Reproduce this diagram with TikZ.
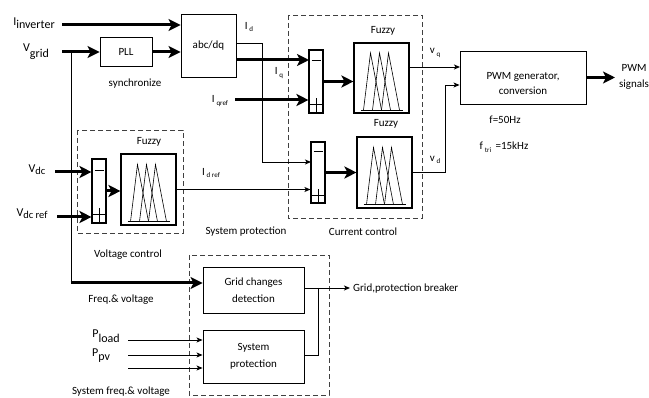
\documentclass[tikz,border=0pt]{standalone}
\usepackage{fontspec}
\setmainfont{Carlito}
\usetikzlibrary{arrows.meta,calc}
\newcommand\lsub[2][3pt]{\raisebox{-#1}{#2}}
\newcommand\ssub[1]{\,\raisebox{-2.5pt}{\fontsize{7}{8}\selectfont #1}}
\newcommand\fuzzicon[1]{\begin{scope}[shift={(#1.center)}, line width=0.6pt]
  \draw (-21,32)--(21,32);
  \draw (-18,32)--(-11,-25)--(0,32);
  \draw (-9,32)--(-2,-25)--(9,32);
  \draw (0,32)--(7,-25)--(18,32);
\end{scope}}
\newcommand\sumicon[1]{\begin{scope}[shift={(#1.center)}, line width=0.8pt]
  \draw (-4.5,-21)--(4.5,-21);
  \draw (-7,23)--(7,23);
  \draw (0,17)--(0,31.5);
\end{scope}}
\begin{document}
\begin{tikzpicture}[x=1pt,y=-1pt,
  every node/.style={font=\fontsize{11}{13}\selectfont, inner sep=0pt},
  blk/.style={draw, line width=0.9pt, align=center},
  wire/.style={line width=0.9pt},
  wirearr/.style={line width=0.9pt, -{Stealth[length=6pt,width=5pt,inset=1.5pt]}},
  bigarr/.style={line width=3pt, -{Stealth[length=12pt,width=12pt,inset=3pt]}},
  dbox/.style={draw=black!75, line width=0.8pt, dash pattern=on 5pt off 3pt},
  sumbar/.style={draw, line width=1.1pt, minimum width=14pt, minimum height=63pt},
  fuzbox/.style={draw, line width=1.1pt, minimum width=55pt, minimum height=70pt},
  big/.style={font=\fontsize{12}{14}\selectfont},
]
\useasboundingbox (0,0) rectangle (649,398);

% dashed groups
\draw[dbox] (77,130) rectangle (183,233);
\draw[dbox] (288,15) rectangle (422,218);
\draw[dbox] (189,255) rectangle (329,395);

% blocks
\node[blk, minimum width=52pt, minimum height=29pt] (pll) at (126,52) {PLL};
\node[blk, minimum width=55pt, minimum height=63pt] (abc) at (208.5,45.5) {abc/dq};
\node[blk, minimum width=126pt, minimum height=53pt] (pwm) at (523,77.5) {};
\node[align=center, font=\fontsize{11}{15}\selectfont] (pwmt) at (523,84) {PWM generator,\\conversion};
\node[blk, minimum width=101pt, minimum height=46pt, font=\fontsize{11}{17}\selectfont] (gcd) at (253.5,290) {Grid changes\\detection};
\node[blk, minimum width=101pt, minimum height=53pt, font=\fontsize{11}{17}\selectfont] (sp) at (253.5,356.5) {System\\protection};

% summing bars and fuzzy blocks
\node[sumbar] (jq) at (316,81.5) {};
\node[sumbar, minimum height=61pt] (jd) at (318,172.5) {};
\node[sumbar, minimum height=64pt] (jv) at (99,191) {};
\sumicon{jq}\sumicon{jd}\sumicon{jv}
\node[fuzbox] (fq) at (381.5,78) {};
\node[fuzbox, minimum height=71pt] (fd) at (384.5,172.5) {};
\node[fuzbox, minimum height=71pt] (fz) at (148.5,189.5) {};
\fuzzicon{fq}\fuzzicon{fd}\fuzzicon{fz}

% labels
\node[big] (lIinv) at (34,23) {I\lsub[3pt]{inverter}};
\node[big] (lVg) at (36,52) {V\lsub[6pt]{grid}};
\node (lsync) at (135,84) {synchronize};
\node (lId) at (249,27) {I\ssub{d}};
\node (lIq) at (279,73) {I\ssub{q}};
\node (lIqr) at (220,101) {I\ssub{qref}};
\node (lIdr) at (211,173) {I\ssub{d ref}};
\node (lvq) at (435,53) {v\ssub{q}};
\node (lvd) at (435,160) {v\ssub{d}};
\node (lf) at (505,120) {f=50Hz};
\node (lftri) at (504,147) {f\ssub{tri}\ \,=15kHz};
\node[align=center, font=\fontsize{11}{16}\selectfont] (lpwms) at (634,77) {PWM\\signals};
\node (lfz1) at (383,31) {Fuzzy};
\node (lfz2) at (386,124) {Fuzzy};
\node (lfz3) at (149,142) {Fuzzy};
\node[big] (lVdc) at (37,170) {V\lsub[2pt]{\fontsize{10.5}{12}\selectfont dc}};
\node[big] (lVdcr) at (32,214) {V\lsub[2pt]{\fontsize{10.5}{12}\selectfont dc ref}};
\node (lvc) at (128,255) {Voltage control};
\node (lspr) at (246,232) {System protection};
\node (lcc) at (363,232) {Current control};
\node[anchor=west] (lgpb) at (353,288.5) {Grid,protection breaker};
\node (lfv) at (121,300) {Freq.\& voltage};
\node (lsfv) at (121,392) {System freq.\& voltage};
\node[big] (lPl) at (106,336) {P\lsub[5pt]{load}};
\node[big] (lPpv) at (101,356) {P\lsub[4pt]{pv}};

% connector end points
\coordinate (iinv) at (62,25);
\coordinate (vg) at (62,52);
\coordinate (vgb) at (71,52);
\coordinate (fvc) at (71,283);
\coordinate (idc) at (262,43);
\coordinate (jdm) at (311,162);
\coordinate (jqm) at (309,60);
\coordinate (iqr) at (235,100);
\coordinate (pwmq) at (460,67);
\coordinate (vdc) at (445,85);
\coordinate (pwmo) at (615,77.5);
\coordinate (vdcs) at (55,172);
\coordinate (vdcrs) at (57,217);
\coordinate (gj) at (318,288);
\coordinate (gout) at (350,288);
\coordinate (spo) at (304,355);
\coordinate (p1) at (128,340);
\coordinate (p2) at (128,355);
\coordinate (p3) at (128,368);

% connectors
\draw[bigarr] (iinv) -- (iinv -| abc.west);
\draw[bigarr] (vg) -- (pll.west);
\draw[bigarr] (pll.east) -- (pll.east -| abc.west);
\draw[wire] (vgb) -- (fvc);
\draw[bigarr] ([xshift=-0.45pt]fvc) -- (fvc -| gcd.west);
\draw[wirearr] (abc.east |- idc) -- (idc) -- (idc |- jdm) -- (jdm);
\draw[bigarr] (abc.east |- jqm) -- (jqm);
\draw[bigarr] (iqr) -- (iqr -| jq.west);
\draw[bigarr] (jq.east) -- (jq.east -| fq.west);
\draw[wirearr] (fq.east |- pwmq) -- (pwmq);
\draw[bigarr] (jd.east) -- (jd.east -| fd.west);
\draw[wirearr] (fd.east) -| (vdc) -- (vdc -| pwm.west);
\draw[bigarr] (pwm.east) -- (pwmo);
\draw[bigarr] (vdcs) -- (vdcs -| jv.west);
\draw[bigarr] (vdcrs) -- (vdcrs -| jv.west);
\draw[bigarr] (jv.east) -- (jv.east -| fz.west);
\draw[wirearr] (fz.east) -- (fz.east -| jd.west);
\draw[wirearr] (gcd.east |- gj) -- (gout);
\draw[wire] (gj) |- (spo);
\draw[wirearr] (p1) -- (p1 -| sp.west);
\draw[wirearr] (p2) -- (p2 -| sp.west);
\draw[wirearr] (p3) -- (p3 -| sp.west);
\end{tikzpicture}
\end{document}
